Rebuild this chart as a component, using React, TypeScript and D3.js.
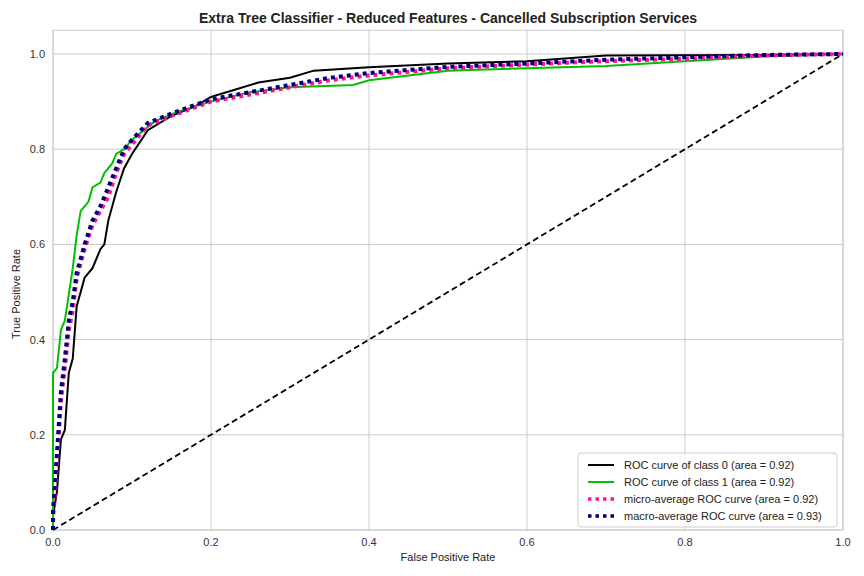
import * as d3 from "d3";

type P = [number, number];

const class0: P[] = [[0,0],[0,0.03],[0.005,0.08],[0.01,0.19],[0.015,0.21],[0.02,0.33],[0.025,0.36],[0.03,0.47],[0.035,0.5],[0.04,0.53],[0.05,0.55],[0.06,0.59],[0.065,0.6],[0.07,0.65],[0.08,0.71],[0.09,0.76],[0.1,0.79],[0.12,0.84],[0.15,0.87],[0.18,0.89],[0.2,0.91],[0.23,0.925],[0.26,0.94],[0.3,0.95],[0.33,0.965],[0.4,0.972],[0.5,0.98],[0.6,0.985],[0.7,0.997],[0.9,0.998],[1,1]];
const class1: P[] = [[0,0],[0,0.33],[0.005,0.34],[0.01,0.42],[0.015,0.44],[0.025,0.55],[0.03,0.62],[0.035,0.67],[0.045,0.69],[0.05,0.72],[0.06,0.73],[0.065,0.75],[0.075,0.77],[0.08,0.79],[0.09,0.8],[0.1,0.82],[0.13,0.86],[0.16,0.88],[0.2,0.9],[0.25,0.92],[0.3,0.93],[0.38,0.935],[0.4,0.945],[0.45,0.955],[0.5,0.965],[0.6,0.97],[0.7,0.975],[0.8,0.985],[0.9,0.995],[1,1]];
const micro: P[] = [[0,0],[0,0.02],[0.005,0.14],[0.01,0.27],[0.015,0.34],[0.02,0.42],[0.025,0.46],[0.03,0.53],[0.04,0.59],[0.05,0.64],[0.06,0.67],[0.07,0.7],[0.08,0.75],[0.09,0.79],[0.1,0.81],[0.12,0.85],[0.15,0.87],[0.2,0.9],[0.25,0.915],[0.3,0.93],[0.35,0.945],[0.4,0.955],[0.5,0.97],[0.6,0.978],[0.7,0.985],[0.8,0.99],[0.9,0.997],[1,1]];
const macro: P[] = [[0,0],[0,0.04],[0.005,0.16],[0.01,0.29],[0.015,0.36],[0.02,0.44],[0.025,0.48],[0.03,0.54],[0.04,0.6],[0.05,0.65],[0.06,0.68],[0.07,0.72],[0.08,0.76],[0.09,0.8],[0.1,0.82],[0.12,0.855],[0.15,0.875],[0.2,0.905],[0.25,0.92],[0.3,0.935],[0.35,0.95],[0.4,0.96],[0.5,0.973],[0.6,0.98],[0.7,0.988],[0.8,0.993],[0.9,0.998],[1,1]];
const ticks = [0, 0.2, 0.4, 0.6, 0.8, 1.0];

const series = [
  { label: "ROC curve of class 0 (area = 0.92)", data: class0, color: "#000000", dash: "none", w: 2 },
  { label: "ROC curve of class 1 (area = 0.92)", data: class1, color: "#00c000", dash: "none", w: 2 },
  { label: "micro-average ROC curve (area = 0.92)", data: micro, color: "#ff1493", dash: "4 4", w: 4 },
  { label: "macro-average ROC curve (area = 0.93)", data: macro, color: "#000080", dash: "4 4", w: 4 },
];

export default function App() {
  const m = { l: 53, r: 843, t: 54, b: 530 };
  const x = d3.scaleLinear().domain([0, 1]).range([m.l, m.r]);
  const y = d3.scaleLinear().domain([0, 1]).range([m.b, m.t]);
  const x0 = x(-0.0), xe = m.r, yt = y(1.05), yb = m.b;
  const line = d3.line<P>().x((d) => x(d[0])).y((d) => y(d[1]));
  const font = "'Liberation Sans', Arial, sans-serif";
  return (
    <svg width={864} height={576} style={{ position: "absolute", left: 0, top: 0 }} fontFamily={font}>
      <rect width={864} height={576} fill="#fff" />
      {ticks.map((t) => (
        <g key={t}>
          <line x1={x(t)} x2={x(t)} y1={yt} y2={yb} stroke="#cccccc" />
          <line x1={x0} x2={xe} y1={y(t)} y2={y(t)} stroke="#cccccc" />
          <text x={x(t)} y={yb + 16} fontSize={11} textAnchor="middle" fill="#333">{t.toFixed(1)}</text>
          <text x={x0 - 8} y={y(t) + 4} fontSize={11} textAnchor="end" fill="#333">{t.toFixed(1)}</text>
        </g>
      ))}
      <rect x={x0} y={yt} width={xe - x0} height={yb - yt} fill="none" stroke="#cccccc" />
      <line x1={x(0)} y1={y(0)} x2={x(1)} y2={y(1)} stroke="#000" strokeWidth={1.8} strokeDasharray="6 3.5" />
      {series.map((s) => (
        <path key={s.label} d={line(s.data) || ""} fill="none" stroke={s.color} strokeWidth={s.w} strokeDasharray={s.dash} />
      ))}
      <text x={448} y={23} fontSize={14} fontWeight="bold" textAnchor="middle" fill="#222">Extra Tree Classifier - Reduced Features - Cancelled Subscription Services</text>
      <text x={448} y={561} fontSize={11} textAnchor="middle" fill="#222">False Positive Rate</text>
      <text transform={`translate(20,${(m.t + m.b) / 2 + 2}) rotate(-90)`} fontSize={11} textAnchor="middle" fill="#222">True Positive Rate</text>
      <g transform="translate(578,453)">
        <rect width={259} height={74} rx={3} fill="#fff" fillOpacity={0.8} stroke="#ccc" />
        {series.map((s, i) => (
          <g key={s.label} transform={`translate(0,${12 + i * 17})`}>
            <line x1={10} x2={36} stroke={s.color} strokeWidth={s.w === 2 ? 2 : 3.5} strokeDasharray={s.dash === "none" ? "none" : "3.5 4"} />
            <text x={46} y={4} fontSize={11} fill="#222">{s.label}</text>
          </g>
        ))}
      </g>
    </svg>
  );
}
